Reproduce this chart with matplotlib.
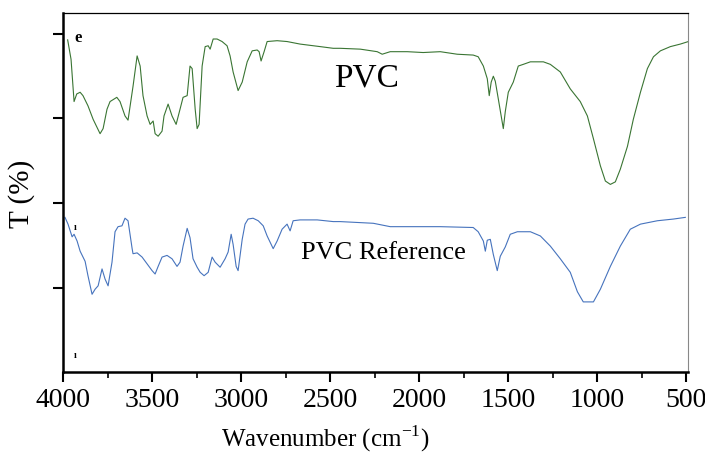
import matplotlib
matplotlib.use('Agg')
import matplotlib.pyplot as plt
from matplotlib.ticker import MultipleLocator

# PVC spectrum (green), wavenumber in cm-1 and offset transmittance
pvc_wn = [3974, 3955, 3938, 3923, 3904, 3888, 3860, 3831, 3792, 3775, 3753, 3736, 3698, 3680,
          3652, 3635, 3607, 3584, 3567, 3551, 3528, 3511, 3494, 3483, 3466, 3444, 3433, 3410,
          3388, 3365, 3343, 3326, 3303, 3287, 3275, 3258, 3247, 3236, 3219, 3202, 3185, 3174,
          3157, 3135, 3107, 3079, 3062, 3045, 3017, 2994, 2966, 2938, 2910, 2899, 2888, 2871,
          2854, 2798, 2742, 2669, 2556, 2483, 2444, 2331, 2236, 2208, 2163, 2067, 1978, 1882,
          1787, 1697, 1669, 1640, 1618, 1607, 1596, 1584, 1573, 1556, 1528, 1517, 1500, 1472,
          1444, 1416, 1376, 1337, 1303, 1264, 1208, 1152, 1096, 1056, 1022, 983, 955, 927,
          899, 871, 831, 798, 758, 719, 685, 646, 590, 534, 489]
pvc_t = [3.93, 3.70, 3.20, 3.29, 3.31, 3.27, 3.15, 2.99, 2.82, 2.88, 3.11, 3.20, 3.25, 3.20,
         3.03, 2.98, 3.38, 3.74, 3.62, 3.27, 3.03, 2.93, 2.97, 2.82, 2.79, 2.85, 3.03, 3.17,
         3.03, 2.93, 3.11, 3.25, 3.27, 3.62, 3.59, 3.11, 2.88, 2.93, 3.62, 3.85, 3.86, 3.82,
         3.94, 3.94, 3.91, 3.86, 3.74, 3.55, 3.33, 3.43, 3.67, 3.80, 3.81, 3.79, 3.68, 3.79,
         3.91, 3.92, 3.91, 3.88, 3.85, 3.83, 3.83, 3.82, 3.79, 3.76, 3.79, 3.79, 3.78, 3.79,
         3.76, 3.75, 3.73, 3.62, 3.47, 3.27, 3.43, 3.50, 3.44, 3.23, 2.88, 3.08, 3.31, 3.43,
         3.62, 3.64, 3.67, 3.67, 3.67, 3.64, 3.55, 3.35, 3.20, 3.03, 2.76, 2.44, 2.26, 2.22,
         2.25, 2.40, 2.67, 2.99, 3.31, 3.59, 3.73, 3.80, 3.85, 3.88, 3.91]

# PVC reference spectrum (blue)
ref_wn = [3989, 3972, 3949, 3938, 3921, 3904, 3876, 3860, 3837, 3820, 3803, 3781, 3764, 3747,
          3725, 3708, 3691, 3669, 3652, 3635, 3612, 3607, 3584, 3556, 3528, 3500, 3483, 3466,
          3444, 3416, 3388, 3360, 3343, 3326, 3303, 3287, 3270, 3247, 3230, 3208, 3185, 3163,
          3146, 3118, 3090, 3073, 3056, 3045, 3028, 3017, 2994, 2978, 2961, 2933, 2904, 2876,
          2854, 2820, 2798, 2770, 2742, 2725, 2708, 2669, 2573, 2483, 2444, 2258, 2163, 2067,
          1882, 1697, 1669, 1640, 1629, 1618, 1601, 1584, 1562, 1545, 1517, 1489, 1449, 1376,
          1320, 1264, 1208, 1152, 1112, 1079, 1022, 983, 927, 871, 815, 758, 663, 573, 506]
ref_t = [1.83, 1.75, 1.60, 1.63, 1.55, 1.43, 1.31, 1.14, 0.92, 0.98, 1.02, 1.22, 1.10, 1.02,
         1.30, 1.66, 1.72, 1.73, 1.82, 1.79, 1.46, 1.40, 1.41, 1.36, 1.28, 1.20, 1.16, 1.25,
         1.36, 1.38, 1.34, 1.25, 1.30, 1.49, 1.70, 1.59, 1.34, 1.24, 1.18, 1.14, 1.18, 1.36,
         1.30, 1.24, 1.34, 1.42, 1.63, 1.51, 1.25, 1.20, 1.57, 1.75, 1.81, 1.82, 1.79, 1.73,
         1.61, 1.46, 1.55, 1.69, 1.75, 1.67, 1.79, 1.80, 1.80, 1.78, 1.78, 1.76, 1.72, 1.72,
         1.72, 1.71, 1.66, 1.55, 1.43, 1.56, 1.57, 1.39, 1.20, 1.37, 1.48, 1.63, 1.66, 1.66,
         1.61, 1.49, 1.34, 1.18, 0.95, 0.83, 0.83, 0.98, 1.25, 1.49, 1.69, 1.75, 1.79, 1.81,
         1.83]

serif = 'Liberation Serif'

fig = plt.figure(figsize=(7.05, 4.6), dpi=100)
ax = fig.add_axes([0.0894, 0.189, 0.887, 0.781])

ax.plot(pvc_wn, pvc_t, color='#3a7533', linewidth=0.8)
ax.plot(ref_wn, ref_t, color='#4673bd', linewidth=0.8)

ax.set_xlim(4000, 489)
ax.set_ylim(0, 4.25)

ax.xaxis.set_major_locator(MultipleLocator(500))
ax.xaxis.set_minor_locator(MultipleLocator(250))
ax.set_yticks([1, 2, 3, 4])
ax.set_yticklabels([])
ax.tick_params(axis='x', which='major', direction='out', length=7, width=1.5, labelsize=20, pad=4)
ax.tick_params(axis='x', which='minor', direction='out', length=4, width=1.2)
ax.tick_params(axis='y', which='major', direction='out', length=7, width=1.5)
for lab in ax.get_xticklabels():
    lab.set_family(serif)

ax.spines['left'].set_linewidth(1.8)
ax.spines['bottom'].set_linewidth(1.8)
ax.spines['top'].set_linewidth(0.9)
ax.spines['right'].set_linewidth(0.8)
ax.spines['right'].set_color('#888888')

ax.set_xlabel('Wavenumber (cm$^{\\mathregular{-1}}$)', family=serif, fontsize=18)
ax.xaxis.set_label_coords(0.42, -0.14)
ax.set_ylabel('T (%)', family=serif, fontsize=21, labelpad=10)

ax.text(2298, 3.49, 'PVC', family=serif, fontsize=24, ha='center', va='center')
ax.text(2202, 1.42, 'PVC Reference', family=serif, fontsize=19, ha='center', va='center')
ax.text(3916, 3.96, 'e', family=serif, fontsize=12, fontweight='bold', ha='center', va='center')
ax.text(3933, 1.72, 'ı', family=serif, fontsize=7, fontweight='bold', ha='center', va='center')
ax.text(3933, 0.21, 'ı', family=serif, fontsize=7, fontweight='bold', ha='center', va='center')

fig.savefig('out.png', dpi=100)
plt.close(fig)
